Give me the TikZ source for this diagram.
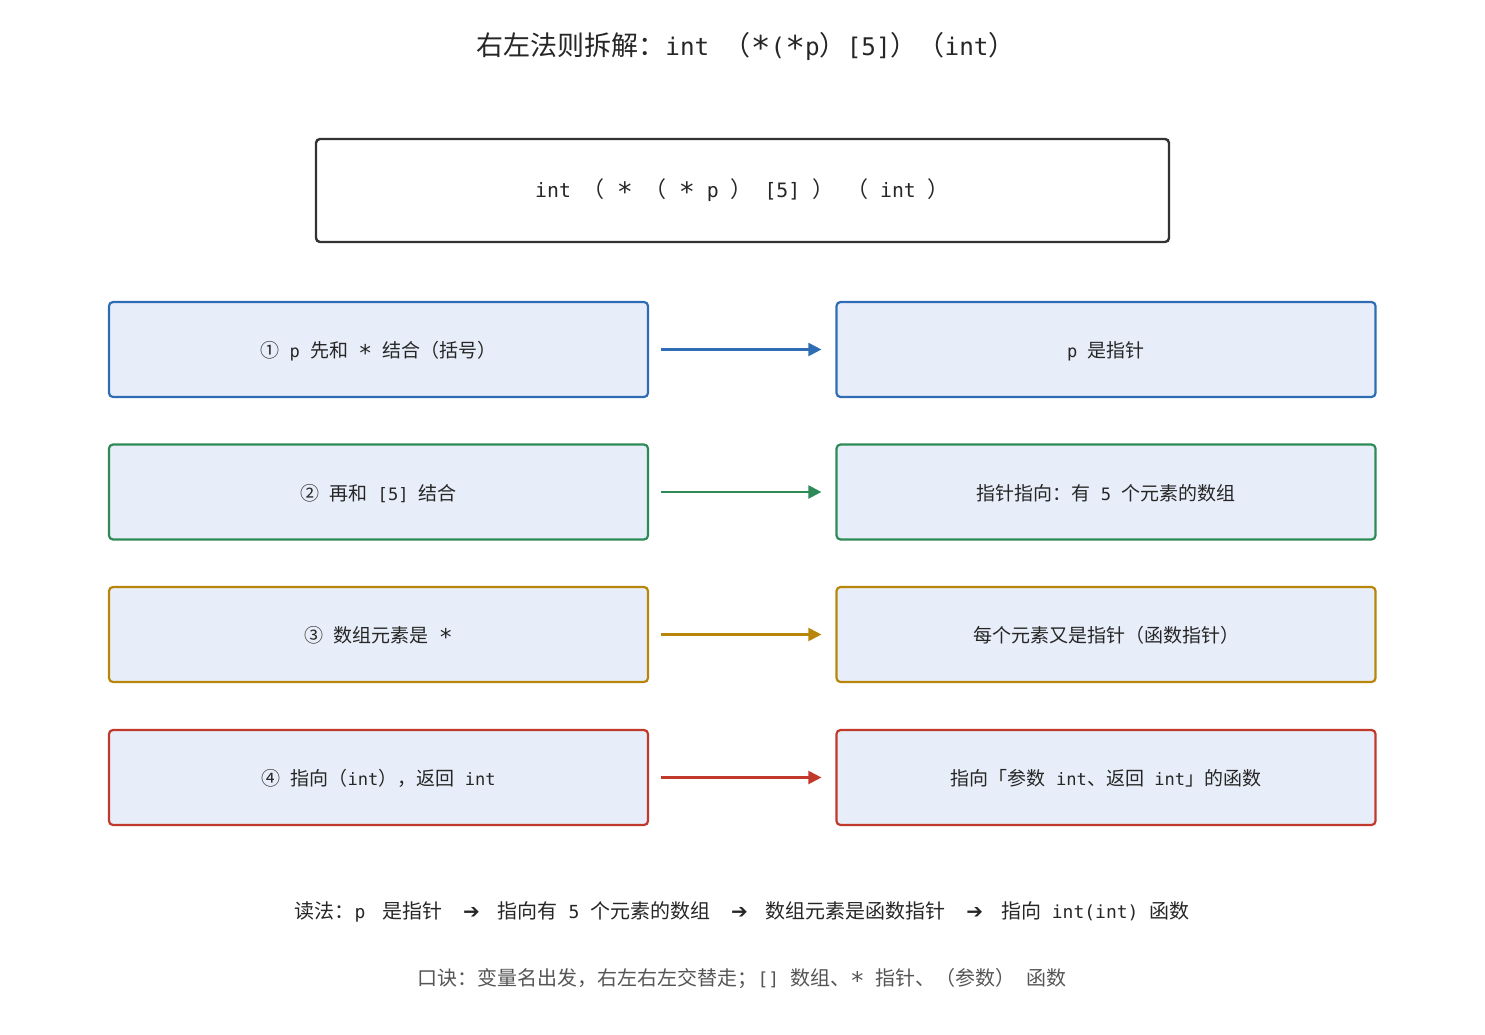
\documentclass[tikz,border=0pt]{standalone}
\usepackage{fontspec}
\setmainfont{Noto Sans CJK SC}
\newfontfamily\latmono[Scale=0.9]{DejaVu Sans Mono}
\newfontfamily\symfont{DejaVu Sans}
\newcommand{\m}[1]{{\latmono #1}}
\newcommand{\aster}{\raisebox{-0.18em}{\scalebox{1.35}{\latmono *}}}
\newcommand{\arr}{\hspace{0.5em}{\symfont ➔}\hspace{0.35em}}
\usetikzlibrary{arrows.meta}
\definecolor{cblue}{HTML}{2E6DB4}
\definecolor{cgreen}{HTML}{2E8B57}
\definecolor{cgold}{HTML}{B8860B}
\definecolor{cred}{HTML}{C0392B}
\definecolor{cfill}{HTML}{E8EEF9}
\definecolor{cdark}{HTML}{333333}
\definecolor{cgray}{HTML}{555555}
\begin{document}
\begin{tikzpicture}[x=1pt,y=-1pt,
  box/.style={draw, line width=2.2pt, rounded corners=4pt, fill=cfill, minimum width=539pt, minimum height=95pt, inner sep=0pt, text depth=0pt, font=\fontsize{19}{21}\selectfont, text=black!85},
  conn/.style={line width=2.2pt, -{Triangle[length=13pt,width=13pt]}}]
\useasboundingbox (0,0) rectangle (1485,1035);
\node[font=\fontsize{27}{30}\selectfont, text=black!85] (title) at (746,46) {右左法则拆解：\m{int }（\aster\m{(}\aster\m{p}）\m{[5]}）（\m{int}）};
\node[draw=cdark, line width=2.4pt, rounded corners=4pt, fill=white, minimum width=853pt, minimum height=103pt, font=\fontsize{22}{25}\selectfont, text=black!85] (code) at (742.5,190.5) {\m{int }（\m{ }\aster\m{ }（\m{ }\aster\m{ p }）\m{ [5] }）\m{ }（\m{ int }）};
\foreach \n/\y/\c/\l/\r in {1/349.5/cblue/{①\m{ p }先和\m{ }\aster\m{ }结合（括号）}/{\m{p }是指针},
  2/492/cgreen/{②\m{ }再和\m{ [5] }结合}/{指针指向：有\m{ 5 }个元素的数组},
  3/634.5/cgold/{③\m{ }数组元素是\m{ }\aster}/{每个元素又是指针（函数指针）},
  4/777.5/cred/{④\m{ }指向（\m{int}），返回\m{ int}}/{指向「参数\m{ int}、返回\m{ int}」的函数}}{
  \node[box, draw=\c] (L\n) at (378.5,\y) {\l};
  \node[box, draw=\c] (R\n) at (1106,\y) {\r};
  \draw[conn, draw=\c, fill=\c] ([xshift=12pt]L\n.east) -- ([xshift=-14pt]R\n.west);
}
\node[font=\fontsize{20}{22}\selectfont, text=black!85] (read) at (742,912) {读法：\m{p }\hspace{0.3em}是指针\m{ }\arr\m{ }指向有\m{ 5 }个元素的数组\m{ }\arr\m{ }数组元素是函数指针\m{ }\arr\m{ }指向\m{ int(int) }函数};
\node[font=\fontsize{20}{22}\selectfont, text=cgray] (memo) at (742,979) {口诀：变量名出发，右左右左交替走；\m{[] }数组、\aster\m{ }指针、（参数）\m{ }函数};
\end{tikzpicture}
\end{document}
